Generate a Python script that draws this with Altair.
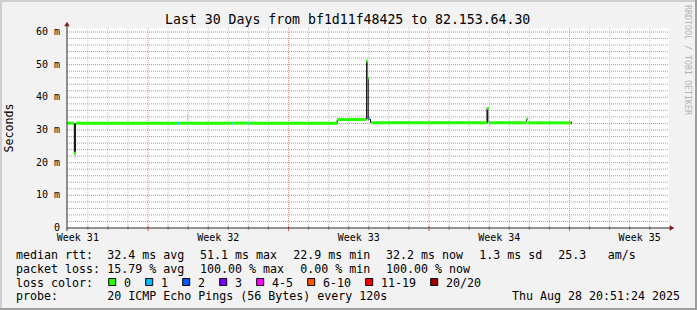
import altair as alt
import pandas as pd

# ---------------- data ----------------
# median rtt, as step segments: start/end in days since window start, value in ms, loss class
seg_start  = [0.00, 0.35, 0.45, 5.53, 5.60, 8.24, 8.30, 9.05, 9.11, 13.47, 14.91, 14.99, 15.03, 15.15, 20.93, 21.03, 21.10, 22.90, 22.98, 23.52, 23.57, 25.10]
seg_end    = [0.35, 0.45, 5.53, 5.60, 8.24, 8.30, 9.05, 9.11, 13.47, 14.91, 14.99, 15.03, 15.10, 20.93, 21.03, 21.10, 22.90, 22.98, 23.52, 23.57, 25.10, 25.16]
seg_median = [32.1, 22.9, 32.1, 32.1, 32.1, 32.1, 32.1, 32.1, 32.1, 33.2, 51.1, 45.9, 33.5, 32.2, 36.6, 32.2, 32.2, 33.4, 32.2, 32.2, 32.2, 32.2]
seg_loss   = ["0", "0", "0", "1", "0", "1", "0", "1", "0", "0", "0", "0", "1", "0", "0", "1", "0", "0", "0", "1", "0", "11-19"]

# smoke (ping spread) bars
smoke_start = [0.34, 0.37, 5.99, 13.44, 14.90, 15.00, 15.10, 20.90, 22.87]
smoke_end   = [0.45, 0.42, 6.04, 13.50, 14.98, 15.04, 15.15, 21.00, 22.92]
smoke_low   = [22.9, 21.5, 32.9, 32.2, 33.2, 33.0, 32.2, 32.2, 32.4]
smoke_high  = [32.1, 22.9, 34.9, 33.2, 51.1, 45.9, 33.4, 36.6, 33.4]
smoke_shade = ["dark", "light", "light", "dark", "dark", "dark", "dark", "dark", "dark"]

loss_classes = ["0", "1", "2", "3", "4-5", "6-10", "11-19", "20/20"]
loss_colors  = ["#26ff00", "#00b8ff", "#0059ff", "#7e00ff", "#ff00ff", "#ff5500", "#ff0000", "#a10000"]

y_tick_values = [0, 10, 20, 30, 40, 50, 60]
y_tick_labels = ["0", "10 m", "20 m", "30 m", "40 m", "50 m", "60 m"]
week_grid_days = [4.04, 11.04, 18.04, 25.04]
week_label_days = [0.54, 7.54, 14.54, 21.54, 28.54]
week_labels = ["Week 31", "Week 32", "Week 33", "Week 34", "Week 35"]

title_text = "Last 30 Days from bf1d11f48425 to 82.153.64.30"
row1 = ["median rtt:", "32.4 ms avg", "51.1 ms max", "22.9 ms min", "32.2 ms now", "1.3 ms sd", "25.3", "am/s"]
row2 = ["packet loss:", "15.79 % avg", "100.00 % max", "0.00 % min", "100.00 % now"]
row4 = ["probe:", "20 ICMP Echo Pings (56 Bytes) every 120s"]
date_text = "Thu Aug 28 20:51:24 2025"

# ---------------- layout ----------------
LEFT, TOP, W, H = 67, 28, 602, 200
TOTAL_W, TOTAL_H = 697, 310
def px(x):
    return x - LEFT
def py(y):
    return y - TOP

mono = "DejaVu Sans Mono"
xs = alt.Scale(domain=[0, 30], nice=False, zero=False)
ys = alt.Scale(domain=[0, 61.22], nice=False)
loss_scale = alt.Scale(domain=loss_classes, range=loss_colors)

one = pd.DataFrame({"a": [0]})
layers = []

# frame shading
def rect_px(x0, x1, y0, y1, color):
    return alt.Chart(one).mark_rect(color=color).encode(
        x=alt.value(px(x0)), x2=alt.value(px(x1)), y=alt.value(py(y0)), y2=alt.value(py(y1)))
layers += [
    rect_px(0, TOTAL_W, 0, 2, "#cfcfcf"),
    rect_px(0, 2, 0, TOTAL_H, "#cfcfcf"),
    rect_px(0, TOTAL_W, TOTAL_H - 2, TOTAL_H, "#9e9e9e"),
    rect_px(TOTAL_W - 2, TOTAL_W, 0, TOTAL_H, "#9e9e9e"),
]

# grid
y_minor = [v for v in range(2, 60, 2) if v % 10 != 0]
y_major = [v for v in y_tick_values if v > 0]
x_minor = [round(0.04 + k, 2) for k in range(1, 30) if round(0.04 + k, 2) not in week_grid_days]

layers.append(alt.Chart(pd.DataFrame({"v": y_minor})).mark_rule(color="#a4a4a4", strokeDash=[1, 1], strokeWidth=1).encode(
    y=alt.Y("v:Q", scale=ys, axis=None), x=alt.value(0), x2=alt.value(W)))
layers.append(alt.Chart(pd.DataFrame({"v": x_minor})).mark_rule(color="#c2c2c2", strokeDash=[1, 1], strokeWidth=1).encode(
    x=alt.X("v:Q", scale=xs, axis=None), y=alt.value(0), y2=alt.value(H)))
layers.append(alt.Chart(pd.DataFrame({"v": y_major})).mark_rule(color="#e87a7a", strokeDash=[1, 1], strokeWidth=1).encode(
    y=alt.Y("v:Q", scale=ys, axis=None), x=alt.value(0), x2=alt.value(W)))
layers.append(alt.Chart(pd.DataFrame({"v": week_grid_days})).mark_rule(color="#ec8888", strokeDash=[1, 1], strokeWidth=1).encode(
    x=alt.X("v:Q", scale=xs, axis=None), y=alt.value(0), y2=alt.value(H)))

# small ticks along the time axis
layers.append(alt.Chart(pd.DataFrame({"v": x_minor})).mark_rule(color="#9a9a9a", strokeWidth=1).encode(
    x=alt.X("v:Q", scale=xs, axis=None), y=alt.value(H - 2), y2=alt.value(H + 2)))
layers.append(alt.Chart(pd.DataFrame({"v": week_grid_days})).mark_rule(color="#e05a5a", strokeWidth=1).encode(
    x=alt.X("v:Q", scale=xs, axis=None), y=alt.value(H - 2), y2=alt.value(H + 3)))

# smoke
smoke = pd.DataFrame({"s": smoke_start, "e": smoke_end, "lo": smoke_low, "hi": smoke_high, "shade": smoke_shade})
layers.append(alt.Chart(smoke).mark_rect().encode(
    x=alt.X("s:Q", scale=xs, axis=None), x2="e:Q",
    y=alt.Y("lo:Q", scale=ys, axis=None), y2="hi:Q",
    color=alt.Color("shade:N", scale=alt.Scale(domain=["dark", "light"], range=["#1e1e1e", "#c4c4c4"]), legend=None)))

# median line
med = pd.DataFrame({"s": seg_start, "e": seg_end, "m": seg_median, "loss": seg_loss})
layers.append(alt.Chart(med).mark_rule(strokeWidth=3).encode(
    x=alt.X("s:Q", scale=xs, axis=None), x2="e:Q",
    y=alt.Y("m:Q", scale=ys, axis=None),
    color=alt.Color("loss:N", scale=loss_scale, legend=None)))

# axes
layers.append(alt.Chart(one).mark_rule(color="#2a2a2a", strokeWidth=1).encode(
    x=alt.value(0), x2=alt.value(W + 2), y=alt.value(H)))
layers.append(alt.Chart(one).mark_rule(color="#2a2a2a", strokeWidth=1).encode(
    x=alt.value(0), y=alt.value(-4), y2=alt.value(H + 3)))
layers.append(alt.Chart(one).mark_point(shape="triangle-up", filled=True, size=30, color="#801f1f", opacity=1).encode(
    x=alt.value(0), y=alt.value(-4)))
layers.append(alt.Chart(one).mark_point(shape="triangle-right", filled=True, size=30, color="#801f1f", opacity=1).encode(
    x=alt.value(W + 3), y=alt.value(H)))

# tick labels
layers.append(alt.Chart(pd.DataFrame({"v": y_tick_values, "t": y_tick_labels})).mark_text(
    font=mono, fontSize=10, align="right", baseline="middle", color="black").encode(
    y=alt.Y("v:Q", scale=ys, axis=None), x=alt.value(-7), text="t:N"))
layers.append(alt.Chart(pd.DataFrame({"v": week_label_days, "t": week_labels})).mark_text(
    font=mono, fontSize=10, align="center", baseline="alphabetic", color="black").encode(
    x=alt.X("v:Q", scale=xs, axis=None), y=alt.value(py(240.7)), text="t:N"))

# title, axis title, watermark
def text_px(t, x, y, size, align="left", baseline="alphabetic", angle=0, color="black"):
    kw = dict(font=mono, fontSize=size, align=align, baseline=baseline, color=color)
    if angle:
        kw["angle"] = angle
    return alt.Chart(pd.DataFrame({"t": [t]})).mark_text(**kw).encode(
        x=alt.value(px(x)), y=alt.value(py(y)), text="t:N")

layers.append(text_px(title_text, 347.7, 24, 13.2, align="center"))
layers.append(text_px("Seconds", 10, 128, 11.6, align="center", baseline="middle", angle=270))
layers.append(text_px("RRDTOOL / TOBI OETIKER", 686.5, 60, 8.3, align="center", baseline="middle", angle=90, color="#b4b4b4"))

# legend rows
FS = 11.63
row1_x = [16, 107.3, 200, 293.3, 386, 479.3, 558.3, 607.7]
row2_x = [16, 107.3, 200, 300.3, 386]
row4_x = [16, 107.3]
row_base = [258.5, 272.5, 286.5, 300.3]
for items, xpos, yb in [(row1, row1_x, row_base[0]), (row2, row2_x, row_base[1]), (row4, row4_x, row_base[3])]:
    for t, x in zip(items, xpos):
        layers.append(text_px(t, x, yb, FS))
layers.append(text_px(date_text, 680, row_base[3], FS, align="right"))
layers.append(text_px("loss color:", 16, row_base[2], FS))

# loss color squares
CH = 7.0
sq_x, lab_x = [], []
cur = 108.7
for lab in loss_classes:
    sq_x.append(cur)
    lab_x.append(cur + 15.3)
    cur += 30 + CH * len(lab)
sq = pd.DataFrame({
    "loss": loss_classes,
    "x0": [px(v) for v in sq_x], "x1": [px(v + 7) for v in sq_x],
    "y0": [py(row_base[2] - 8)] * len(sq_x), "y1": [py(row_base[2] - 1)] * len(sq_x),
    "lx": [px(v) for v in lab_x], "ly": [py(row_base[2])] * len(sq_x),
})
layers.append(alt.Chart(sq).mark_rect(stroke="black", strokeWidth=1).encode(
    x=alt.X("x0:Q", scale=None), x2="x1:Q", y=alt.Y("y0:Q", scale=None), y2="y1:Q",
    color=alt.Color("loss:N", scale=loss_scale, legend=None)))
layers.append(alt.Chart(sq).mark_text(font=mono, fontSize=FS, align="left", baseline="alphabetic", color="black").encode(
    x=alt.X("lx:Q", scale=None), y=alt.Y("ly:Q", scale=None), text="loss:N"))

chart = alt.layer(*layers).properties(
    width=W, height=H,
    autosize=alt.AutoSizeParams(type="none"),
    padding={"left": LEFT, "top": TOP, "right": TOTAL_W - LEFT - W, "bottom": TOTAL_H - TOP - H},
    background="#f2f2f2",
).configure_view(stroke=None, fill="white").resolve_scale(color="independent")

chart.save("out.html", embed_options={"renderer": "svg", "actions": False})
